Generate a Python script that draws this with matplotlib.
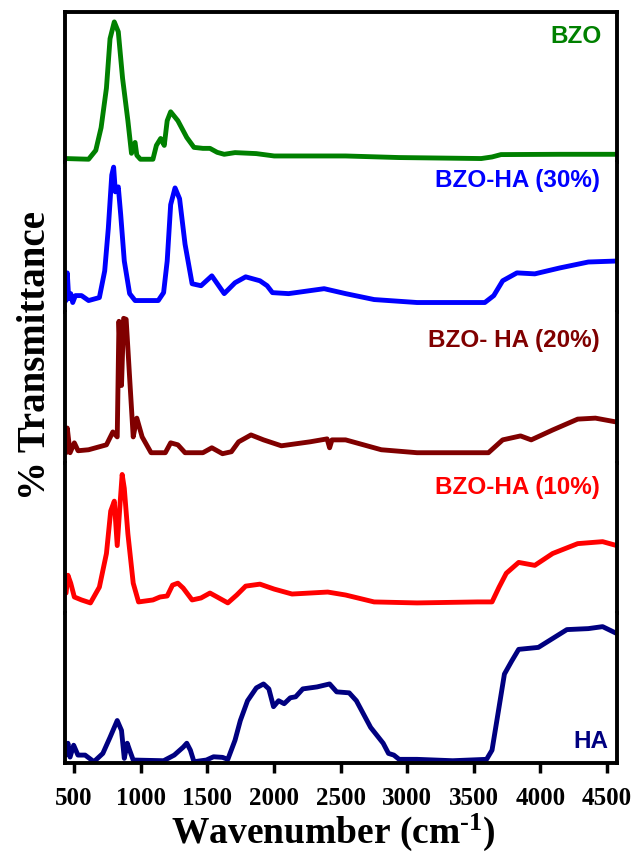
import matplotlib
matplotlib.use("Agg")
import matplotlib.pyplot as plt

plt.rcParams['mathtext.fontset'] = 'custom'
plt.rcParams['mathtext.rm'] = 'Liberation Serif:bold'
plt.rcParams['mathtext.bf'] = 'Liberation Serif:bold'
plt.rcParams['mathtext.it'] = 'Liberation Serif:bold'

# ---------------- data (relative transmittance, a.u.) ----------------
bzo_wn = [435, 609, 663, 703, 743, 770, 802, 832, 864, 904, 931, 958, 971, 998, 1092, 1118, 1150,
          1177, 1199, 1225, 1279, 1346, 1400, 1467, 1520, 1574, 1627, 1708, 1868, 2002, 2538, 2940,
          3556, 3637, 3704, 4146, 4574]
bzo_t = [3.7, 3, 12, 35, 75, 125, 142, 132, 85, 42, 9, 20, 7, 3, 3, 17, 24,
         17, 42, 51, 42, 25, 15, 14, 14, 10, 8, 9.7, 8.7, 6.3, 6.3, 4.7,
         3.7, 5.3, 7.7, 8, 8]

ha30_wn = [440, 449, 460, 475, 490, 510, 556, 609, 690, 730, 757, 783, 797, 810, 832, 850, 877, 917,
           958, 1132, 1172, 1199, 1225, 1258, 1292, 1333, 1386, 1453, 1534, 1627, 1708, 1788, 1895,
           1949, 1989, 2110, 2377, 2538, 2752, 3074, 3583, 3650, 3717, 3824, 3958, 4146, 4360, 4574]
ha30_t = [12, 40, 14, 19, 10, 17, 17, 12, 15, 42, 85, 139, 147, 122, 127, 99, 52, 19,
          12, 12, 20, 52, 109, 126, 115, 69, 29, 27, 37, 19, 30, 36, 32,
          27, 20, 19, 24, 19, 13, 10, 10, 17, 32, 40, 39, 45, 51, 52]

ha20_wn = [440, 449, 470, 502, 530, 609, 743, 791, 824, 837, 856, 872, 891, 917, 944, 971, 1011,
           1078, 1185, 1225, 1279, 1333, 1467, 1534, 1614, 1681, 1735, 1828, 1922, 2056, 2270,
           2399, 2418, 2436, 2538, 2806, 3074, 3610, 3717, 3851, 3931, 4092, 4280, 4413, 4574]
ha20_t = [10, 35, 10, 20, 12, 13, 18, 31, 26, 143, 78, 146, 145, 86, 26, 45, 26,
          10, 10, 20, 18, 10, 10, 15, 9, 11, 21, 28, 23, 17, 21,
          24, 15, 23, 23, 13, 10, 10, 23, 27, 23, 33, 44, 45, 41]

ha10_wn = [440, 454, 475, 502, 556, 623, 690, 743, 775, 802, 824, 845, 861, 877, 904, 944, 984,
           1092, 1145, 1199, 1239, 1279, 1319, 1386, 1453, 1520, 1574, 1654, 1721, 1788, 1895,
           2002, 2136, 2404, 2538, 2752, 3074, 3529, 3637, 3690, 3744, 3837, 3958, 4092, 4280,
           4467, 4574]
ha10_t = [20, 38, 30, 16, 13, 10, 26, 60, 103, 113, 68, 110, 140, 126, 80, 30, 11,
          13, 16, 17, 28, 30, 25, 13, 15, 20, 16, 10, 18, 27, 29,
          24, 19, 21, 18, 11, 10, 11, 11, 26, 40, 51, 48, 60, 70,
          72, 68]

ha_wn = [440, 454, 470, 497, 529, 583, 649, 716, 770, 824, 856, 877, 899, 917, 944, 1172, 1252,
         1319, 1346, 1373, 1400, 1493, 1547, 1614, 1654, 1708, 1748, 1802, 1868, 1922, 1962,
         1997, 2035, 2077, 2123, 2163, 2217, 2324, 2418, 2471, 2565, 2619, 2726, 2820, 2860,
         2900, 2940, 3074, 3342, 3596, 3637, 3677, 3730, 3784, 3837, 3985, 4092, 4199, 4360,
         4467, 4574]
ha_t = [8, 20, 6, 18, 8, 8, 1.3, 9.7, 26, 43, 33, 4.7, 20, 13, 3, 2.3, 8,
        16, 20, 13, 1.3, 3, 6.3, 5.7, 3.7, 23, 43, 63, 76, 80, 75,
        57, 63, 60, 66, 67, 75, 77, 80, 72, 71, 63, 36, 20, 9.7,
        8, 3.7, 3.7, 2.3, 3.7, 13, 46, 90, 103, 115, 117, 126, 135, 136,
        138, 131]

names = ['BZO', 'BZO-HA (30%)', 'BZO- HA (20%)', 'BZO-HA (10%)', 'HA']
xs = [bzo_wn, ha30_wn, ha20_wn, ha10_wn, ha_wn]
ys = [bzo_t, ha30_t, ha20_t, ha10_t, ha_t]
colors = ['#008000', '#0000FF', '#800000', '#FF0000', '#000080']
xticks = [500, 1000, 1500, 2000, 2500, 3000, 3500, 4000, 4500]

# label positions (axes fraction)
lab_pos = [(0.973, 0.84), (0.969, 0.875), (0.969, 0.81), (0.969, 0.833), (0.984, 0.14)]

fig, axes = plt.subplots(5, 1, sharex=True, figsize=(6.35, 8.6), dpi=100,
                         gridspec_kw=dict(hspace=0))
fig.subplots_adjust(left=65/635, right=617/635, top=1-12/860, bottom=1-763/860)

for i, ax in enumerate(axes):
    ax.plot(xs[i], ys[i], color=colors[i], lw=3.5, solid_joinstyle='round',
            solid_capstyle='round')
    ax.set_ylim(0, 152)
    ax.set_yticks([])
    ax.set_xlim(432, 4575)
    for s in ['left', 'right', 'top', 'bottom']:
        ax.spines[s].set_linewidth(2.8)
    if i != 0:
        ax.spines['top'].set_visible(False)
    if i != 4:
        ax.spines['bottom'].set_visible(False)
        ax.tick_params(axis='x', bottom=False, labelbottom=False)
    ax.text(lab_pos[i][0], lab_pos[i][1], names[i], transform=ax.transAxes,
            ha='right', va='center', color=colors[i], fontsize=17.5,
            fontweight='bold', family='Liberation Sans')

axb = axes[-1]
axb.set_xticks(xticks)
axb.set_xticklabels([str(t) for t in xticks], family='Liberation Serif',
                    fontweight='bold', fontsize=18)
axb.tick_params(axis='x', direction='out', length=7, width=2.5, pad=10)

fig.text(333/635, 1-832/860, r'Wavenumber (cm$^{\text{-}1}$)', ha='center', va='center',
         family='Liberation Serif', fontweight='bold', fontsize=27)
fig.text(36/635, 1-355/860, '% Transmittance', ha='center', va='center', rotation=90,
         family='Liberation Serif', fontweight='bold', fontsize=28)

fig.savefig('out.png', dpi=100)
